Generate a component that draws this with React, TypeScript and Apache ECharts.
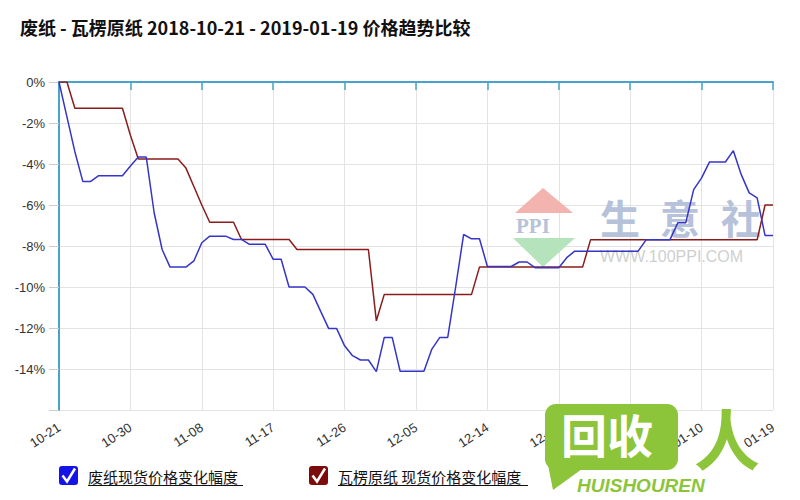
import React, { useEffect, useRef } from "react";
import * as echarts from "echarts";

// ---- data ----
const START_DATE = "2018-10-21";
const DAY_COUNT = 91;
const TITLE = "废纸 - 瓦楞原纸 2018-10-21 - 2019-01-19 价格趋势比较";
const SERIES_NAMES = ["废纸现货价格变化幅度", "瓦楞原纸 现货价格变化幅度"];
const Y_TICKS = [0, -2, -4, -6, -8, -10, -12, -14, -16];

// 废纸 (waste paper) daily change, %
const wastePaperChange = [
  0, -1.7, -3.4, -4.85, -4.85, -4.57, -4.57, -4.57, -4.57, -4.1,
  -3.66, -3.66, -6.39, -8.17, -9.03, -9.03, -9.03, -8.73, -7.84, -7.52,
  -7.52, -7.52, -7.68, -7.68, -7.92, -7.92, -7.92, -8.65, -8.65, -10.0,
  -10.0, -10.0, -10.36, -11.2, -12.03, -12.03, -12.87, -13.35, -13.56, -13.56,
  -14.13, -12.46, -12.46, -14.11, -14.11, -14.11, -14.11, -13.03, -12.46, -12.46,
  -10.0, -7.44, -7.65, -7.65, -9.0, -9.0, -9.0, -9.0, -8.78, -8.78,
  -9.06, -9.06, -9.06, -9.06, -8.57, -8.25, -8.25, -8.25, -8.25, -8.25,
  -8.25, -8.25, -8.25, -8.25, -7.7, -7.7, -7.7, -7.7, -6.87, -6.87,
  -5.25, -4.68, -3.9, -3.9, -3.9, -3.35, -4.52, -5.41, -5.65, -7.49,
  -7.49,
];

// 瓦楞原纸 (corrugated base paper) daily change, %
const corrugatedPaperChange = [
  0, 0, -1.28, -1.28, -1.28, -1.28, -1.28, -1.28, -1.28, -2.6,
  -3.76, -3.76, -3.76, -3.76, -3.76, -3.76, -4.2, -5.1, -6.0, -6.84,
  -6.84, -6.84, -6.84, -7.68, -7.68, -7.68, -7.68, -7.68, -7.68, -7.68,
  -8.17, -8.17, -8.17, -8.17, -8.17, -8.17, -8.17, -8.17, -8.17, -8.17,
  -11.65, -10.36, -10.36, -10.36, -10.36, -10.36, -10.36, -10.36, -10.36, -10.36,
  -10.36, -10.36, -10.36, -9.03, -9.03, -9.03, -9.03, -9.03, -9.03, -9.03,
  -9.03, -9.03, -9.03, -9.03, -9.03, -9.03, -9.03, -7.7, -7.7, -7.7,
  -7.7, -7.7, -7.7, -7.7, -7.7, -7.7, -7.7, -7.7, -7.7, -7.7,
  -7.7, -7.7, -7.7, -7.7, -7.7, -7.7, -7.7, -7.7, -7.7, -6.0,
  -6.0,
];

function buildDates(start: string, count: number): string[] {
  const out: string[] = [];
  const d0 = new Date(start + "T00:00:00Z");
  for (let i = 0; i < count; i++) {
    const d = new Date(d0.getTime() + i * 86400000);
    const mm = String(d.getUTCMonth() + 1).padStart(2, "0");
    const dd = String(d.getUTCDate()).padStart(2, "0");
    out.push(`${mm}-${dd}`);
  }
  return out;
}
const dates = buildDates(START_DATE, DAY_COUNT);

const BLUE = "#3535c8";
const RED = "#8a1c1c";
const AXIS = "#4aa3c8";
const FONT = "'Liberation Sans', Arial, 'Noto Sans CJK SC', sans-serif";
const CJK = "'Noto Sans CJK SC', 'Liberation Sans', sans-serif";
const WM = "#b6c2da";

export default function App() {
  const ref = useRef<HTMLDivElement>(null);
  useEffect(() => {
    if (!ref.current) return;
    const chart = echarts.init(ref.current, null, { renderer: "svg" });
    const yMin = Math.min(...Y_TICKS);
    const yMax = Math.max(...Y_TICKS);
    const splitColors = Y_TICKS.slice(1).map(() => "#e3e3e3").concat(["#9a9a9a"]);
    chart.setOption({
      animation: false,
      backgroundColor: "#ffffff",
      title: {
        text: TITLE,
        left: 15,
        top: 13,
        textStyle: { fontSize: 18, fontWeight: "bold", color: "#111", fontFamily: CJK },
      },
      grid: { left: 59, right: 27, top: 82, bottom: 90 },
      xAxis: {
        type: "category",
        data: dates,
        boundaryGap: false,
        axisLine: { lineStyle: { color: AXIS, width: 2 } },
        axisTick: { show: true, interval: 8, length: 8, lineStyle: { color: AXIS, width: 1.5 } },
        axisLabel: { interval: 8, rotate: 33, fontSize: 13, color: "#333", fontFamily: FONT, margin: 16 },
        splitLine: { show: true, interval: 8, lineStyle: { color: "#e3e3e3" } },
      },
      yAxis: {
        type: "value",
        min: yMin,
        max: yMax,
        interval: 2,
        axisLine: { show: true, lineStyle: { color: AXIS, width: 2 } },
        axisTick: { show: true, length: 10, lineStyle: { color: "#cccccc" } },
        axisLabel: {
          fontSize: 13,
          color: "#333",
          fontFamily: FONT,
          margin: 14,
          formatter: (v: number) => (v === yMin ? "" : `${v}%`),
        },
        splitLine: { show: true, lineStyle: { color: splitColors } },
      },
      series: [
        {
          name: SERIES_NAMES[0],
          type: "line",
          data: wastePaperChange,
          showSymbol: false,
          lineStyle: { color: BLUE, width: 1.5 },
          itemStyle: { color: BLUE },
          z: 3,
        },
        {
          name: SERIES_NAMES[1],
          type: "line",
          data: corrugatedPaperChange,
          showSymbol: false,
          lineStyle: { color: RED, width: 1.5 },
          itemStyle: { color: RED },
          z: 2,
        },
      ],
      graphic: [
        // PPI watermark (behind lines)
        { type: "polygon", z: 1, shape: { points: [[543, 188], [515, 213], [573, 213]] }, style: { fill: "#f3b4b0" } },
        { type: "polygon", z: 1, shape: { points: [[513, 238], [575, 238], [543, 267]] }, style: { fill: "#b5e3bc" } },
        {
          type: "text", z: 1, x: 516, y: 226,
          style: { text: "PPI", fill: WM, fontSize: 21, fontWeight: "bold", fontFamily: "'Liberation Serif', serif", verticalAlign: "middle", letterSpacing: 1 },
        },
        { type: "text", z: 1, x: 600, y: 217, style: { text: "生", fill: WM, fontSize: 40, fontWeight: "bold", fontFamily: CJK, verticalAlign: "middle" } },
        { type: "text", z: 1, x: 660, y: 217, style: { text: "意", fill: WM, fontSize: 40, fontWeight: "bold", fontFamily: CJK, verticalAlign: "middle" } },
        { type: "text", z: 1, x: 721, y: 217, style: { text: "社", fill: WM, fontSize: 40, fontWeight: "bold", fontFamily: CJK, verticalAlign: "middle" } },
        {
          type: "text", z: 1, x: 600, y: 256,
          style: { text: "WWW.100PPI.COM", fill: "#cfcfcf", fontSize: 16, fontFamily: FONT, verticalAlign: "middle", letterSpacing: 2.6 },
        },
        // legend
        { type: "rect", z: 5, shape: { x: 59, y: 466, width: 19, height: 19, r: 3 }, style: { fill: "#1414e6" } },
        { type: "polyline", z: 6, shape: { points: [[62.5, 475.5], [67, 481.5], [75, 468.5]] }, style: { stroke: "#ffffff", lineWidth: 2.5, fill: null } },
        {
          type: "text", z: 5, x: 88, y: 476,
          style: { text: SERIES_NAMES[0], fill: "#111", fontSize: 15, fontFamily: CJK, verticalAlign: "middle" },
        },
        { type: "line", z: 5, shape: { x1: 88, y1: 485.5, x2: 243, y2: 485.5 }, style: { stroke: "#111", lineWidth: 1 } },
        { type: "rect", z: 5, shape: { x: 309, y: 466, width: 19, height: 19, r: 3 }, style: { fill: "#7c0c0c" } },
        { type: "polyline", z: 6, shape: { points: [[312.5, 475.5], [317, 481.5], [325, 468.5]] }, style: { stroke: "#ffffff", lineWidth: 2.5, fill: null } },
        {
          type: "text", z: 5, x: 338, y: 476,
          style: { text: SERIES_NAMES[1], fill: "#111", fontSize: 15, fontFamily: CJK, verticalAlign: "middle" },
        },
        { type: "line", z: 5, shape: { x1: 338, y1: 485.5, x2: 528, y2: 485.5 }, style: { stroke: "#111", lineWidth: 1 } },
        // 回收人 logo overlay
        { type: "rect", z: 100, shape: { x: 545, y: 404, width: 133, height: 66, r: 11 }, style: { fill: "#8cc43a" } },
        { type: "polygon", z: 100, shape: { points: [[546, 455], [553, 490], [582, 469]] }, style: { fill: "#8cc43a" } },
        {
          type: "text", z: 101, x: 561, y: 433,
          style: { text: "回收", fill: "#ffffff", fontSize: 46, fontWeight: "bold", fontFamily: CJK, verticalAlign: "middle" },
        },
        {
          type: "text", z: 101, x: 694, y: 436,
          style: { text: "人", fill: "#8cc43a", fontSize: 66, fontWeight: "bold", fontFamily: CJK, verticalAlign: "middle" },
        },
        {
          type: "text", z: 101, x: 577, y: 485,
          style: { text: "HUISHOUREN", fill: "#8cc43a", fontSize: 19, fontWeight: "bold", fontStyle: "italic", fontFamily: FONT, verticalAlign: "middle" },
        },
      ],
    });
    return () => chart.dispose();
  }, []);
  return <div ref={ref} style={{ position: "fixed", left: 0, top: 0, width: 800, height: 500 }} />;
}
